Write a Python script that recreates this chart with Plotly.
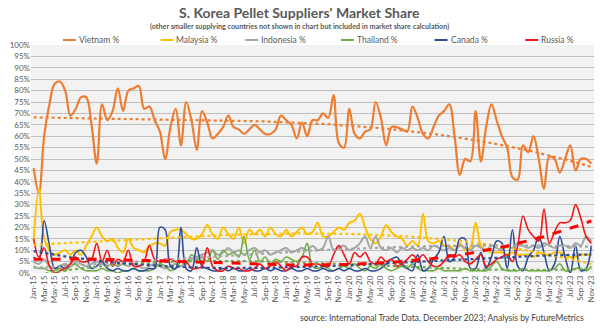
import numpy as np
import plotly.graph_objects as go

month_names = ["Jan", "Feb", "Mar", "Apr", "May", "Jun", "Jul", "Aug", "Sep", "Oct", "Nov", "Dec"]
years = ["15", "16", "17", "18", "19", "20", "21", "22", "23"]
months = [f"{m}-{y}" for y in years for m in month_names][:107]

vietnam = [46, 35, 60, 74, 83, 84, 80, 69, 72, 77, 77, 65, 48, 74, 67, 71, 81, 71, 80, 81,
           82, 72, 73, 67, 62, 50, 64, 72, 56, 75, 67, 54, 71, 66, 59, 61, 64, 69, 64, 63,
           61, 63, 65, 63, 61, 61, 63, 69, 67, 65, 59, 66, 60, 67, 67, 70, 68, 78, 57, 55,
           72, 61, 59, 62, 63, 75, 68, 56, 64, 64, 63, 62, 73, 68, 61, 59, 64, 69, 71, 74,
           60, 43, 50, 49, 71, 49, 64, 74, 67, 60, 55, 42, 41, 56, 53, 60, 50, 37, 51, 50,
           44, 50, 56, 45, 50, 50, 48]
malaysia = [14, 37, 15, 10, 8, 9, 10, 8, 10, 8, 12, 16, 20, 16, 14, 15, 11, 9, 15, 11,
            10, 9, 12, 13, 13, 12, 18, 19, 19, 17, 15, 15, 17, 21, 17, 15, 20, 17, 15, 20,
            13, 19, 17, 19, 16, 20, 17, 16, 19, 16, 18, 20, 17, 18, 22, 16, 16, 18, 20, 19,
            22, 23, 26, 20, 15, 13, 16, 21, 18, 16, 15, 12, 14, 12, 26, 14, 13, 14, 12, 12,
            10, 13, 10, 11, 22, 12, 10, 9, 9, 9, 8, 9, 8, 8, 8, 7, 9, 8, 8, 9,
            9, 8, 7, 7, 8, 8, 8]
indonesia = [5, 4, 6, 3, 2, 3, 4, 3, 5, 4, 3, 4, 5, 4, 3, 4, 3, 4, 3, 4,
             3, 2, 3, 4, 3, 2, 3, 4, 3, 5, 6, 7, 8, 9, 10, 8, 9, 11, 9, 10,
             8, 10, 11, 9, 10, 8, 9, 10, 11, 9, 10, 11, 10, 12, 10, 11, 16, 10, 11, 12,
             10, 11, 13, 16, 11, 16, 11, 10, 11, 9, 11, 10, 11, 10, 11, 10, 12, 11, 10, 11,
             10, 12, 11, 10, 12, 11, 10, 12, 11, 10, 12, 11, 13, 12, 11, 12, 11, 13, 12, 11,
             12, 12, 11, 13, 12, 16, 14]
thailand = [3, 2, 2, 1, 1, 2, 1, 3, 4, 2, 1, 1, 1, 2, 1, 1, 0, 1, 1, 2,
            1, 1, 1, 2, 4, 3, 1, 2, 5, 4, 8, 6, 7, 5, 10, 6, 10, 8, 9, 7,
            16, 6, 10, 5, 7, 4, 6, 5, 7, 6, 5, 7, 13, 3, 2, 3, 2, 1, 2, 3,
            2, 4, 2, 1, 3, 2, 4, 2, 1, 2, 3, 2, 4, 2, 1, 1, 1, 2, 1, 1,
            1, 1, 2, 1, 1, 1, 1, 3, 5, 2, 1, 1, 1, 2, 1, 1, 1, 1, 1, 2,
            4, 1, 1, 2, 2, 1, 3]
canada = [7, 6, 23, 12, 2, 3, 2, 4, 9, 10, 7, 2, 3, 5, 2, 1, 2, 1, 1, 2,
          1, 1, 2, 2, 20, 19, 3, 2, 20, 2, 1, 11, 3, 2, 1, 1, 2, 1, 2, 1,
          1, 2, 1, 1, 2, 1, 2, 1, 1, 2, 1, 1, 2, 1, 1, 2, 1, 1, 2, 1,
          2, 1, 1, 2, 1, 1, 2, 4, 6, 7, 4, 2, 1, 8, 1, 2, 6, 9, 16, 5,
          7, 15, 15, 2, 2, 9, 2, 7, 14, 13, 2, 19, 3, 1, 7, 10, 16, 9, 1, 4,
          16, 7, 0, 12, 1, 2, 12]
russia = [15, 7, 11, 3, 0, 1, 2, 4, 7, 5, 5, 6, 13, 5, 10, 3, 6, 5, 10, 3,
          3, 5, 12, 6, 5, 6, 6, 5, 5, 5, 2, 2, 3, 11, 3, 1, 1, 3, 2, 2,
          1, 1, 2, 4, 2, 3, 5, 3, 1, 3, 3, 7, 7, 4, 4, 3, 3, 8, 12, 8,
          4, 9, 7, 9, 5, 4, 7, 5, 6, 3, 4, 6, 8, 6, 8, 5, 3, 3, 5, 8,
          7, 8, 5, 4, 6, 8, 3, 4, 6, 7, 8, 5, 12, 25, 19, 16, 14, 28, 13, 18,
          22, 22, 23, 30, 24, 16, 13]

series_names = ["Vietnam %", "Malaysia %", "Indonesia %", "Thailand %", "Canada %", "Russia %"]
series_values = [vietnam, malaysia, indonesia, thailand, canada, russia]
series_colors = ["#ED7D31", "#FFC000", "#A5A5A5", "#70AD47", "#2E4C94", "#F01818"]
series_widths = [2.2, 2.0, 2.0, 1.6, 1.6, 1.6]
y_ticks = list(range(0, 101, 5))
y_labels = [f"{v}%" for v in y_ticks]

L, R, T, B = 31, 4, 45, 56
WIDTH, HEIGHT = 600, 329
PW = WIDTH - L - R
PH = HEIGHT - T - B


def px2x(x):
    return (x - L) / PW


def py2y(y):
    return (HEIGHT - B - y) / PH


fig = go.Figure()
for name, vals, col, w in zip(series_names, series_values, series_colors, series_widths):
    fig.add_trace(go.Scatter(x=months, y=vals, mode="lines", name=name,
                             line=dict(color=col, width=w, shape="spline", smoothing=1),
                             showlegend=False))

idx = np.arange(len(months))
for name, vals, col in zip(series_names, series_values, series_colors):
    coef = np.polyfit(idx, np.array(vals, dtype=float), 3)
    trend = np.polyval(coef, idx)
    if name == "Russia %":
        line = dict(color="#FF0000", width=3, dash="dash")
    else:
        line = dict(color=col, width=2.2, dash="dot")
    fig.add_trace(go.Scatter(x=months, y=trend, mode="lines", line=line,
                             showlegend=False, hoverinfo="skip"))

font_family = "Lato"
gray = "#595959"

annotations = [
    dict(x=px2x(300), y=py2y(12), xref="paper", yref="paper", showarrow=False,
         text="<b>S. Korea Pellet Suppliers' Market Share</b>",
         font=dict(family=font_family, size=14, color=gray), xanchor="center", yanchor="middle"),
    dict(x=px2x(300), y=py2y(26), xref="paper", yref="paper", showarrow=False,
         text="<b>(other smaller supplying countries not shown in chart but included in market share calculation)</b>",
         font=dict(family=font_family, size=7.2, color=gray), xanchor="center", yanchor="middle"),
    dict(x=px2x(588), y=py2y(318), xref="paper", yref="paper", showarrow=False,
         text="source: International Trade Data, December 2023; Analysis by FutureMetrics",
         font=dict(family=font_family, size=8.5, color="#404040"), xanchor="right", yanchor="middle"),
]

shapes = []
legend_starts = [63, 161, 246, 342, 436, 527]
for name, col, x0 in zip(series_names, series_colors, legend_starts):
    shapes.append(dict(type="line", xref="paper", yref="paper",
                       x0=px2x(x0), x1=px2x(x0 + 13), y0=py2y(40), y1=py2y(40),
                       line=dict(color=col, width=2)))
    annotations.append(dict(x=px2x(x0 + 14), y=py2y(40), xref="paper", yref="paper",
                            showarrow=False, text=name, xanchor="left", yanchor="middle",
                            font=dict(family=font_family, size=8.5, color=gray)))

fig.update_layout(
    width=WIDTH, height=HEIGHT,
    margin=dict(l=L, r=R, t=T, b=B, pad=0),
    paper_bgcolor="white",
    plot_bgcolor="#F2F2F2",
    annotations=annotations,
    shapes=shapes,
    showlegend=False,
    font=dict(family=font_family, color=gray),
)
fig.update_xaxes(
    type="category", range=[-0.5, len(months) - 0.5],
    tickmode="array", tickvals=months[::2], ticktext=months[::2],
    tickangle=-90, tickfont=dict(size=8, color=gray, family=font_family),
    showgrid=False, zeroline=False, showline=False, ticks="",
)
fig.update_yaxes(
    range=[0, 100], tickmode="array", tickvals=y_ticks, ticktext=y_labels,
    tickfont=dict(size=8, color=gray, family=font_family),
    showgrid=True, gridcolor="#BFBFBF", gridwidth=1, zeroline=False, showline=False, ticks="",
)

fig.write_html("out.html")
